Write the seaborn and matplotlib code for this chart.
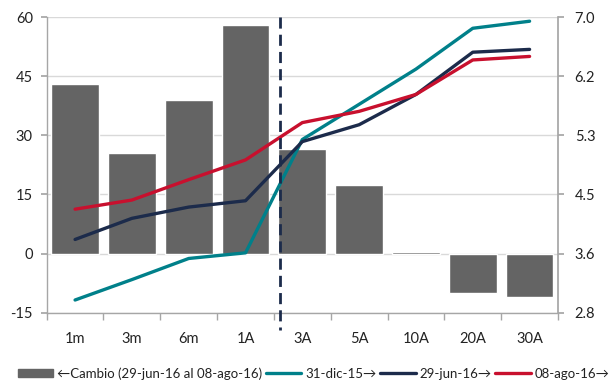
import numpy as np
import pandas as pd
import matplotlib
matplotlib.use("Agg")
import matplotlib.pyplot as plt
from matplotlib.patches import Patch
from matplotlib.lines import Line2D
import seaborn as sns

# Plazos de la curva
plazos = ["1m", "3m", "6m", "1A", "3A", "5A", "10A", "20A", "30A"]

# Cambio en puntos base (eje izquierdo)
cambio = [43, 25.5, 39, 58, 26.5, 17.5, 0.3, -10, -11]

# Tasas (%) por fecha (eje derecho)
tasa_31dic15 = [2.98, 3.27, 3.57, 3.65, 5.26, 5.76, 6.26, 6.84, 6.94]
tasa_29jun16 = [3.84, 4.14, 4.30, 4.39, 5.23, 5.47, 5.90, 6.50, 6.54]
tasa_08ago16 = [4.27, 4.40, 4.69, 4.97, 5.50, 5.66, 5.90, 6.39, 6.44]

etiquetas = ["\u2190Cambio (29-jun-16 al 08-ago-16)", "31-dic-15\u2192",
             "29-jun-16\u2192", "08-ago-16\u2192"]

c_barra = "#646464"
c_teal = "#00808a"
c_navy = "#1c2b4b"
c_rojo = "#c8102e"
c_gris = "#a6a6a6"

sns.set_theme(style="white")
plt.rcParams["font.family"] = ["Lato", "DejaVu Sans"]
plt.rcParams["axes.unicode_minus"] = False

fig = plt.figure(figsize=(6.15, 3.83), dpi=100)
ax = fig.add_axes([0.0759, 0.1836, 0.9073 - 0.0759, 0.9556 - 0.1836])

df_bar = pd.DataFrame({"plazo": plazos, "cambio": cambio})
sns.barplot(data=df_bar, x="plazo", y="cambio", color=c_barra, saturation=1,
            width=0.84, ax=ax, zorder=2)

ax.set_ylim(-15, 60)
ax.set_yticks(np.arange(-15, 61, 15))
ax.set_xlim(-0.5, len(plazos) - 0.5)
ax.set_xlabel("")
ax.set_ylabel("")
ax.yaxis.grid(True, color="#d9d9d9", lw=1, zorder=0)
ax.set_axisbelow(True)
for s in ["top", "right"]:
    ax.spines[s].set_visible(False)
for s in ["left", "bottom"]:
    ax.spines[s].set_color(c_gris)
    ax.spines[s].set_linewidth(1)
ax.tick_params(axis="y", which="major", left=True, length=4, color=c_gris,
               labelsize=10.5, labelcolor="#222222", pad=6)
ax.set_xticks(np.arange(len(plazos)))
ax.set_xticklabels(plazos)
ax.tick_params(axis="x", which="major", bottom=False, length=0,
               labelsize=10.5, labelcolor="#222222", pad=14)
ax.set_xticks(np.arange(-0.5, len(plazos), 1), minor=True)
ax.tick_params(axis="x", which="minor", bottom=True, length=5, color=c_gris)

ax2 = ax.twinx()
pos = np.arange(len(plazos))
df_lin = pd.DataFrame({
    "pos": np.tile(pos, 3),
    "tasa": tasa_31dic15 + tasa_29jun16 + tasa_08ago16,
    "fecha": np.repeat(etiquetas[1:], len(plazos)),
})
sns.lineplot(data=df_lin, x="pos", y="tasa", hue="fecha",
             palette=[c_teal, c_navy, c_rojo], lw=2.4, sort=False,
             legend=False, ax=ax2)
ax2.set_ylim(2.8, 7.0)
rticks = np.linspace(2.8, 7.0, 6)
ax2.set_yticks(rticks)
ax2.set_yticklabels([f"{t:.1f}" for t in rticks])
ax2.set_xlim(-0.5, len(plazos) - 0.5)
ax2.set_xlabel("")
ax2.set_ylabel("")
for s in ["top", "left", "bottom"]:
    ax2.spines[s].set_visible(False)
ax2.spines["right"].set_color(c_gris)
ax2.tick_params(axis="y", right=True, length=4, color=c_gris,
                labelsize=10.5, labelcolor="#222222", pad=8)

# Separador entre corto y largo plazo
ax2.plot([3.6, 3.6], [60, -19.5], transform=ax.transData, color=c_navy,
         lw=2, ls=(0, (4, 2.2)), clip_on=False, zorder=5)

handles = [
    Patch(facecolor=c_barra, edgecolor=c_barra),
    Line2D([], [], color=c_teal, lw=2.4),
    Line2D([], [], color=c_navy, lw=2.4),
    Line2D([], [], color=c_rojo, lw=2.4),
]
fig.legend(handles, etiquetas, loc="lower center", bbox_to_anchor=(0.51, -0.022),
           ncol=4, frameon=False, fontsize=9.5, handlelength=2.7,
           handleheight=0.6, handletextpad=0.3, columnspacing=0.25,
           labelcolor="#222222")

fig.savefig("out.png", dpi=100)
